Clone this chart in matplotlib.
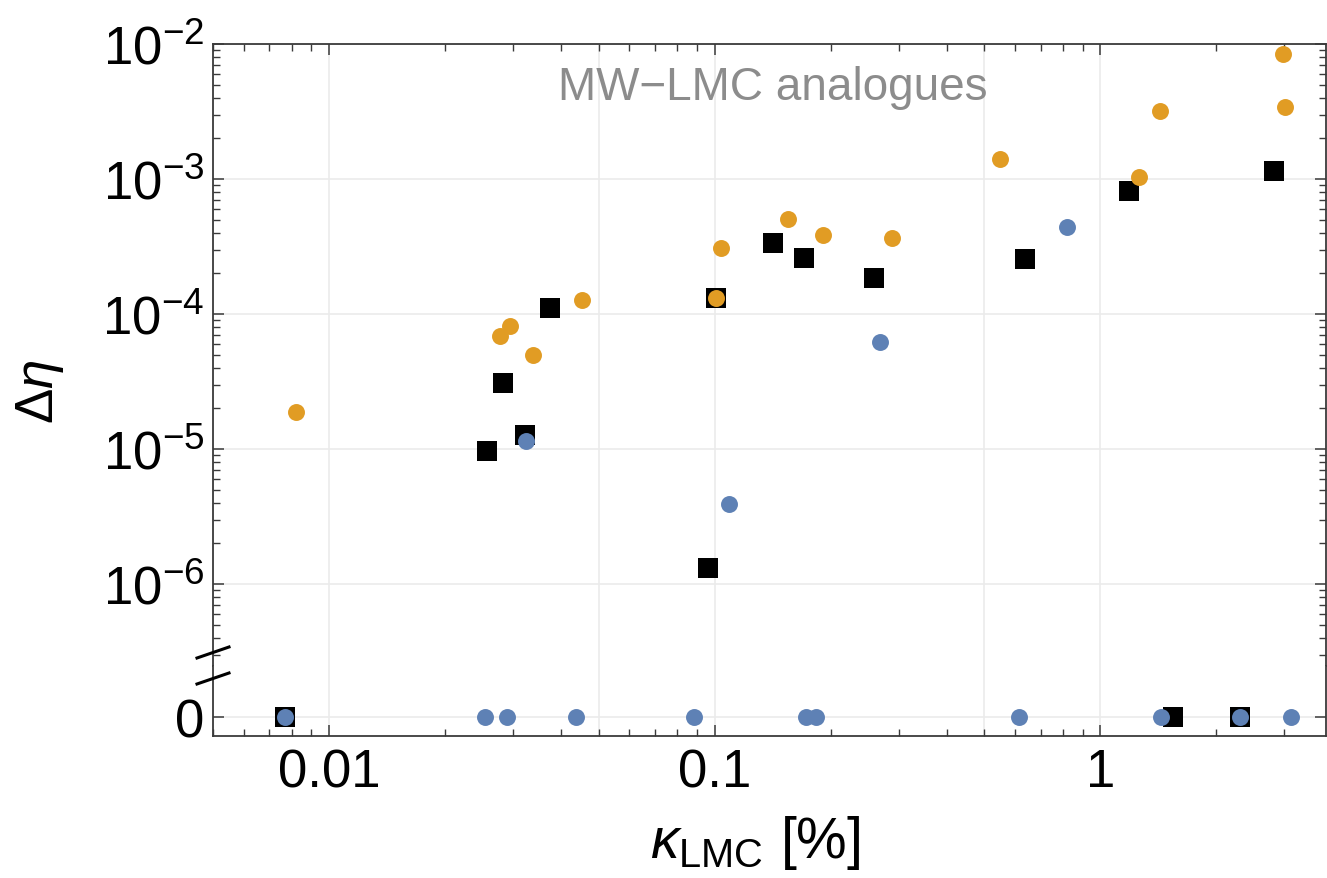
import matplotlib
matplotlib.use("Agg")
import matplotlib.pyplot as plt
from matplotlib.ticker import LogLocator, FixedLocator, NullFormatter, NullLocator
from matplotlib.lines import Line2D

plt.rcParams['font.family'] = ['Liberation Sans', 'DejaVu Sans']
plt.rcParams['mathtext.fontset'] = 'custom'
plt.rcParams['mathtext.rm'] = 'Liberation Sans'
plt.rcParams['mathtext.it'] = 'Liberation Sans:italic'

# points with a nonzero value (log part)
orange_x = [0.0082, 0.0277, 0.0295, 0.0337, 0.0454, 0.1006, 0.1038, 0.155, 0.191, 0.288,
            0.549, 1.26, 1.43, 2.97, 3.01]
orange_y = [1.88e-5, 6.87e-5, 8.15e-5, 4.97e-5, 1.27e-4, 1.31e-4, 3.08e-4, 5.06e-4, 3.85e-4, 3.66e-4,
            1.41e-3, 1.03e-3, 3.19e-3, 8.43e-3, 3.41e-3]

black_x = [0.0257, 0.0283, 0.0323, 0.0375, 0.0959, 0.1006, 0.1415, 0.170, 0.259, 0.638, 1.19, 2.83]
black_y = [9.66e-6, 3.08e-5, 1.27e-5, 1.11e-4, 1.31e-6, 1.31e-4, 3.36e-4, 2.60e-4, 1.85e-4,
           2.55e-4, 8.15e-4, 1.15e-3]

blue_x = [0.0325, 0.109, 0.268, 0.820]
blue_y = [1.15e-5, 3.92e-6, 6.21e-5, 4.41e-4]

# points at exactly zero
black_zero_x = [0.00768, 1.54, 2.30]
blue_zero_x = [0.00768, 0.0254, 0.029, 0.0438, 0.0882, 0.173, 0.183, 0.616, 1.44, 2.30, 3.12]

xticks = [0.01, 0.1, 1]
xticklabels = ["0.01", "0.1", "1"]
yticks = [1e-6, 1e-5, 1e-4, 1e-3, 1e-2]
yticklabels = [r"$10^{-6}$", r"$10^{-5}$", r"$10^{-4}$", r"$10^{-3}$", r"$10^{-2}$"]
xgrid = [0.005, 0.01, 0.05, 0.1, 0.5, 1]

ORANGE = '#E19C24'
BLUE = '#5E81B5'
SPINE = '#3a3a3a'
GRID = '#ebebeb'

W, H = 1327, 879
fig = plt.figure(figsize=(W / 100, H / 100), dpi=100)

left = 213 / W
width = (1326 - 213) / W
ax = fig.add_axes([left, 1 - 667 / H, width, (667 - 45) / H])
ax0 = fig.add_axes([left, 1 - 737 / H, width, 70 / H], sharex=ax)

for a in (ax, ax0):
    a.set_xscale('log')
    a.set_xlim(0.005, 3.85)
    for s in a.spines.values():
        s.set_color(SPINE)
        s.set_linewidth(1.3)
    for g in xgrid:
        a.axvline(g, color=GRID, lw=1.2, zorder=0)

# upper (log) panel
ax.set_yscale('log')
ax.set_ylim(2.47e-7, 1e-2)
ax.spines['bottom'].set_visible(False)
for t in yticks:
    ax.axhline(t, color=GRID, lw=1.2, zorder=0)

ax.plot(black_x, black_y, 's', color='black', ms=13.7, mew=0, zorder=3)
ax.plot(orange_x, orange_y, 'o', color=ORANGE, ms=12.2, mew=0, zorder=4)
ax.plot(blue_x, blue_y, 'o', color=BLUE, ms=12.2, mew=0, zorder=5)

ax.yaxis.set_major_locator(FixedLocator(yticks))
ax.set_yticklabels(yticklabels)
ax.yaxis.set_minor_locator(LogLocator(base=10, subs=[2, 3, 4, 5, 6, 7, 8, 9], numticks=20))
ax.yaxis.set_minor_formatter(NullFormatter())
ax.tick_params(axis='y', which='both', direction='in', left=True, right=True, colors=SPINE,
               labelcolor='black', labelsize=38, pad=6)
ax.tick_params(axis='y', which='major', length=8, width=1.1)
ax.tick_params(axis='y', which='minor', length=5, width=1.0)
ax.tick_params(axis='x', which='both', direction='in', top=True, bottom=False,
               labelbottom=False, labeltop=False, colors=SPINE)
ax.tick_params(axis='x', which='major', length=8, width=1.1)
ax.tick_params(axis='x', which='minor', length=5, width=1.0)

# lower (zero) panel
ax0.set_ylim(-19, 51)
ax0.spines['top'].set_visible(False)
ax0.axhline(0, color=GRID, lw=1.2, zorder=0)
ax0.plot(black_zero_x, [0] * len(black_zero_x), 's', color='black', ms=13.7, mew=0, zorder=3)
ax0.plot(blue_zero_x, [0] * len(blue_zero_x), 'o', color=BLUE, ms=12.2, mew=0, zorder=5)

ax0.yaxis.set_major_locator(FixedLocator([0]))
ax0.set_yticklabels(["0"])
ax0.yaxis.set_minor_locator(NullLocator())
ax0.tick_params(axis='y', which='major', direction='in', left=True, right=True, length=8,
                width=1.1, colors=SPINE, labelcolor='black', labelsize=38, pad=6)

ax0.xaxis.set_major_locator(FixedLocator(xticks))
ax0.set_xticklabels(xticklabels)
ax0.xaxis.set_minor_locator(LogLocator(base=10, subs=[2, 3, 4, 5, 6, 7, 8, 9], numticks=20))
ax0.xaxis.set_minor_formatter(NullFormatter())
ax0.tick_params(axis='x', which='both', direction='in', top=False, bottom=True, colors=SPINE,
                labelcolor='black', labelsize=38, pad=8)
ax0.tick_params(axis='x', which='major', length=8, width=1.1)
ax0.tick_params(axis='x', which='minor', length=5, width=1.0)

# axis break marks
for y0, y1 in [(659, 648), (685, 674)]:
    fig.add_artist(Line2D([197 / W, 229 / W], [1 - y0 / H, 1 - y1 / H], color='black', lw=2.2,
                          transform=fig.transFigure))

fig.text(755 / W, 1 - 858 / H, r"$\kappa_{\mathrm{LMC}}$ [%]", fontsize=41,
         ha='center', va='baseline')
fig.text(40 / W, 1 - 392 / H, r"$\Delta\eta$", fontsize=38, rotation=90, ha='center', va='center')
fig.text(773 / W, 1 - 100 / H, "MW\u2212LMC analogues", fontsize=33, color='#8c8c8c',
         ha='center', va='baseline')

fig.savefig("out.png", dpi=100)
